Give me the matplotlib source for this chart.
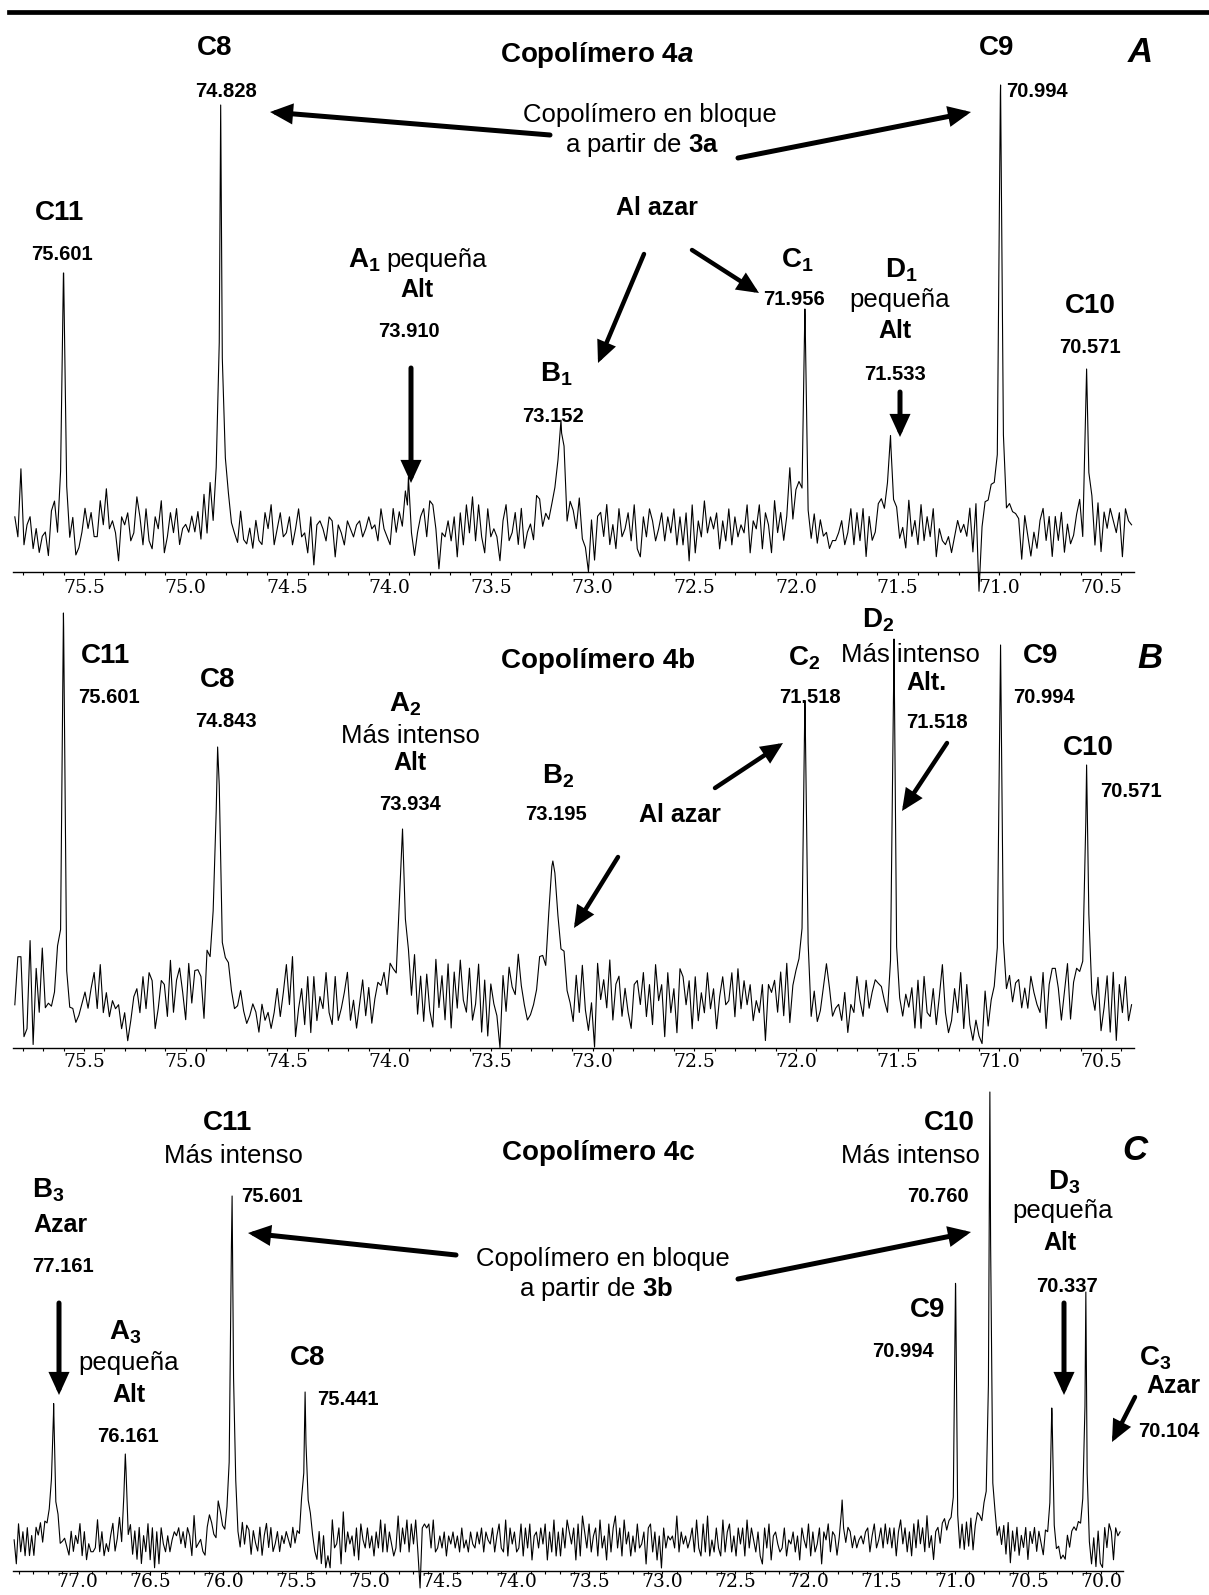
import numpy as np
import matplotlib
matplotlib.use("Agg")
import matplotlib.pyplot as plt
from matplotlib.patches import FancyArrowPatch
from matplotlib.lines import Line2D

plt.rcParams["font.family"] = ["Liberation Sans", "DejaVu Sans"]
plt.rcParams["mathtext.fontset"] = "custom"
plt.rcParams["mathtext.rm"] = "Liberation Sans:bold"
plt.rcParams["mathtext.bf"] = "Liberation Sans:bold"
plt.rcParams["mathtext.it"] = "Liberation Sans:bold:italic"

# ------------------------------------------------------------------
# Spectral data (13C NMR, ppm).  Intensities in arbitrary units.
# ------------------------------------------------------------------
STEP = 0.015            # ppm between recorded points
start_4a = 75.84
start_4b = 75.84
start_4c = 77.43

# baseline noise of each recorded trace (one value per point)
noise_4a = [
    2, -3, 14, -5, 0, 2, -6, -1, -7, -3, -2, -8, 3, 5, -4, 5, 2, 3, -5, 1,
    -8, -6, -2, 4, -1, 3, -3, -3, 6, 0, 9, -1, 1, -2, -9, 2, 0, 3, -4, -2,
    7, 2, -5, 4, -4, -6, 2, -1, 6, -7, -3, 3, -2, 4, -5, -1, 0, -2, 2, -2,
    3, -4, 7, -3, 9, -2, 6, -3, 0, 9, 5, -1, -3, -5, 3, -4, -5, -1, -6, 1,
    -4, -5, 3, -1, 5, -5, -1, 3, -3, -2, 2, -5, -1, 4, -3, -2, -7, 2, -10, 0,
    1, -1, -4, 2, 1, -8, 0, -2, -5, 1, -1, -3, 0, 1, -3, -1, 2, -1, 0, -4,
    4, -1, -3, -5, 4, -2, 3, -1, 6, 8, -3, -8, -2, 2, 4, -3, 6, 5, -1, -11,
    -2, -3, 1, -4, 2, -8, 3, -5, 5, -2, 7, -4, 5, -3, -7, 4, -3, -1, -3, -9,
    1, 5, -4, -2, 3, -5, 4, -6, -2, 0, -4, 7, 6, -1, 2, 0, 3, 5, 6, 4,
    5, -5, 3, 2, -2, 6, -4, -6, -12, 1, -9, 2, 3, -3, 5, -5, 0, -6, 4, -3,
    -1, 3, -4, 5, -6, -8, 2, -3, 4, 1, -4, -1, 3, -4, 2, -2, 4, -5, 2, -5,
    3, -9, 5, -7, 1, -3, 6, -2, 2, -1, 3, -6, 1, -4, 4, -5, 2, -3, 0, -2,
    5, -7, 1, -1, 5, -6, 3, 0, -7, 6, -2, 3, -4, 2, 14, 1, 8, 9, 2, 0,
    -2, -5, 2, -5, 1, -3, -2, -6, -4, -4, -2, 1, -5, -2, 4, -5, 3, -4, 4, -8,
    2, -4, -2, 5, 6, 3, 7, 4, 1, 3, -4, -1, -6, 6, -3, 1, -5, 5, -4, 2,
    -3, 4, -8, -1, -4, -5, -3, -7, -3, 1, -2, 0, -3, 4, -7, 5, -17, -1, 5, 5,
    8, 6, 2, 0, 3, -1, 3, 2, 2, 1, -9, 2, -3, -8, -2, -6, 1, 4, -4, 2,
    -8, 2, -4, 3, -7, 0, -5, -3, 2, 5, -7, 2, 3, 5, -6, 5, -7, 3, -1, 4,
    1, -2, 3, -8, 4, 1, 0,
]
noise_4b = [
    -2, 10, 10, -10, -8, 14, -12, 7, -4, 12, -3, -2, -3, 0, 10, 6, 0, -2, -5, -4,
    -7, -5, -2, 1, -3, 2, 6, -3, 8, -4, 1, -5, -1, -3, -2, -8, -4, -11, -6, 0,
    2, -4, 5, -3, 6, 4, -8, -3, 4, 3, -5, 9, -4, 4, 7, 1, -6, 8, -2, 6,
    6, 4, -7, 9, 5, 9, 2, 12, 2, 5, 6, 0, -4, -3, 1, -4, -7, -5, -2, -4,
    -9, -2, -6, -4, -8, -4, 2, -5, 1, 8, -2, 10, -10, -3, 2, -7, 5, -9, 5, -6,
    0, -3, 6, -4, -7, 5, -6, -3, 1, 6, -6, -1, -8, -2, 4, -5, 2, -7, -1, 3,
    2, 5, -1, 6, 3, -2, 4, 0, -3, 3, -4, 8, -6, 4, -7, 5, -4, -8, 9, -3,
    5, -6, 8, -8, 6, -3, 9, -1, -4, 7, -6, -2, 8, -9, 4, -10, 3, -2, -5, -13,
    5, -4, 7, 2, 0, 10, 2, -3, -7, -6, -4, -1, 6, 4, -3, 1, 0, 2, 4, 3,
    6, -2, -4, -8, 4, -5, 7, -4, -9, -2, -13, 8, -1, 4, -3, 9, -6, 3, 5, -5,
    2, -4, -8, 3, 4, -2, 6, -5, 3, -7, 8, -1, 3, -10, 6, -4, 2, -9, 7, 5,
    -2, 4, -8, 5, -6, 1, -4, 6, -3, 2, -8, 0, 5, -2, -1, 6, -5, 7, -3, 4,
    -2, 3, -6, -1, -4, 3, -11, 3, 1, 4, -4, 6, -5, 8, -7, 2, 5, 6, 4, 0,
    3, -8, 0, -7, -4, 2, 8, 2, -5, -3, -2, -6, 1, -9, -2, -4, 5, -1, -5, 4,
    -3, 1, 4, 3, 2, -2, -6, 2, 0, 1, -3, -6, 0, -3, 2, -8, 4, -8, 5, -4,
    -5, 2, -7, 0, 8, -4, -9, -6, 2, -4, 6, -8, 3, -7, -11, -6, -10, -12, 1, -8,
    -2, 0, 3, 0, 2, -1, 4, -2, 3, 4, -3, 2, -3, 5, 1, -2, -4, 6, -8, 3,
    7, 7, 2, -6, 1, 8, -6, 3, 6, 4, 2, 0, 4, -3, -5, 4, -9, -3, 5, -9,
    6, -11, 3, -4, 5, -6, -2,
]
noise_4c = [
    0, -6, 4, -3, 2, -4, 3, -4, 1, -4, 3, 1, 4, -1, 4, 3, 5, 6, 3, 2,
    4, -2, -1, 0, -2, -4, 2, -3, 1, -1, 4, -4, 2, -5, -1, -3, -3, -2, 5, -3,
    2, -4, -1, -3, 1, 4, -3, 0, 5, -2, 4, 3, -1, 3, -4, 2, -5, 3, -6, 1,
    -3, 4, -5, 3, -7, 2, -6, 3, -1, -3, 1, -3, 0, 2, 1, 3, -1, 2, -2, 3,
    1, -4, 6, -2, -1, 0, -3, -4, 3, 6, 4, 1, 0, 9, 6, 2, 0, 3, 5, 7,
    2, 5, -2, -4, 3, -2, 3, 2, -4, 2, -1, -3, 3, -4, 1, 4, -2, 3, -3, -1,
    2, -3, 1, -1, 2, 0, -2, 3, -1, 2, 1, 9, 8, 9, 8, 6, 1, -3, -5, 2,
    -6, 1, -7, -4, -7, 5, -2, -1, 3, -6, 7, -3, 2, -1, 1, -4, 3, -5, 4, 0,
    -2, 3, -2, 1, -4, 2, -2, 5, -3, 4, -3, 2, -1, -4, -2, 6, -3, 3, -1, 5,
    -3, 4, -1, 5, -3, -12, 3, 4, 3, 4, -2, 5, -3, -2, 1, -2, 2, -4, 1, -1,
    2, -2, 1, -3, 3, -2, 0, -3, 2, -1, -2, 2, -1, 3, -3, 2, 0, -1, 3, -3,
    1, 4, -2, -3, 5, -4, 3, -1, 2, -3, -2, 4, -4, 3, -2, 4, -5, 1, 2, -2,
    3, -1, 4, -5, 2, -3, 5, -4, 2, -4, 3, -2, 5, 2, -1, 3, -5, 4, -4, 6,
    2, -2, 4, -3, 1, 3, -4, 5, -2, 1, -5, 4, -3, 3, 6, -2, 3, -4, 5, -1,
    2, -4, 1, -3, 4, -2, -1, 2, -6, 3, 4, -3, 2, -5, 1, -7, 3, -2, 1, 0,
    1, -2, 6, -3, 2, -1, 1, -2, 0, 3, -3, 5, -2, -4, 4, -3, 6, -4, 0, -3,
    3, -2, -4, 5, -3, 2, 4, -3, 1, -4, 3, -1, 3, -4, 5, -2, 3, 0, -3, 2,
    -4, -6, 3, -2, 4, -5, 1, 2, -1, -3, -2, 3, -4, 0, -1, 2, -3, 1, -5, 3,
    0, -2, 4, -4, 2, -3, -1, 3, -6, 2, 0, 4, -3, 2, 1, -4, 0, 2, 1, -1,
    3, 2, -2, 1, -2, 0, 1, -1, 2, 3, -3, 1, 4, -2, 0, 3, -2, 4, -1, 3,
    -2, 3, -4, 2, 5, -1, 3, -3, 2, -4, 4, -2, 5, -1, 3, -3, 6, -2, 1, -5,
    2, 3, -1, 4, 5, 2, 4, 4, 5, 3, -1, -4, 3, -3, 4, -2, 5, -3, 3, 6,
    5, 3, 6, 4, 2, 0, 2, 3, -1, 2, -2, 3, -4, 4, -6, 2, -3, 3, -4, 1,
    -2, 3, -5, 2, -1, 3, -3, 2, -1, -4, 2, 1, 5, 3, 1, -3, -2, -5, -4, -5,
    1, -2, 2, 3, 2, 4, 3, 7, 8, 2, -3, -7, 0, -7, 2, -6, -7, 3, -2, 4,
    2, -5, 3, 1, 2,
]

# resolved signals: position (ppm), height, half-width (ppm)
peaks_4a_ppm = [75.601, 74.828, 73.910, 73.152, 71.956, 71.533, 70.994, 70.571]
peaks_4a_int = [63, 105, 5, 23, 54, 19.5, 110, 39]
peaks_4a_hw = [0.0055, 0.0065, 0.010, 0.016, 0.0055, 0.008, 0.0065, 0.0065]

peaks_4b_ppm = [75.601, 74.843, 73.934, 73.195, 71.956, 71.518, 70.994, 70.571]
peaks_4b_int = [96, 62.5, 42, 34, 74, 89.5, 88, 58]
peaks_4b_hw = [0.005, 0.011, 0.015, 0.024, 0.0065, 0.005, 0.0055, 0.007]

peaks_4c_ppm = [77.161, 76.67, 75.94, 75.441, 71.77, 70.994, 70.760, 70.337, 70.104]
peaks_4c_int = [31.5, 21.5, 86, 37, 10, 63.5, 112, 33, 62]
peaks_4c_hw = [0.009, 0.007, 0.009, 0.005, 0.005, 0.005, 0.007, 0.005, 0.005]

# axis limits (ppm) and tick spacing
xlim_4a = (75.847, 70.338)
xlim_4b = (75.847, 70.338)
xlim_4c = (77.435, 69.85)
major_step = 0.5
minor_step = 0.1

# ------------------------------------------------------------------
W, H, DPI = 1209, 1595, 100
PX_PER_UNIT = 4.0
fig = plt.figure(figsize=(W / DPI, H / DPI), dpi=DPI)
fig.patch.set_facecolor("white")


def spectrum(start, noise, ppm, inten, hw):
    x = start - STEP * np.arange(len(noise))
    y = np.asarray(noise, dtype=float).copy()
    for p, h, w in zip(ppm, inten, hw):
        y += h / (1.0 + ((x - p) / w) ** 2)
    xs = np.concatenate([x, np.asarray(ppm, float)])
    ys = np.concatenate([y, np.asarray(inten, float)])
    order = np.argsort(-xs)
    return xs[order], ys[order]


def make_panel(left, right, top, bottom, base, xlim, pad):
    ax = fig.add_axes([left / W, 1 - bottom / H, (right - left) / W, (bottom - top) / H])
    ax.set_xlim(*xlim)
    ax.set_ylim(-(bottom - base) / PX_PER_UNIT, (base - top) / PX_PER_UNIT)
    for s in ("left", "right", "top"):
        ax.spines[s].set_visible(False)
    ax.spines["bottom"].set_linewidth(1.0)
    ax.set_yticks([])
    hi, lo = xlim
    major = np.arange(np.ceil(lo / major_step) * major_step, hi, major_step)
    minor = np.arange(np.ceil(lo / minor_step) * minor_step, hi, minor_step)
    ax.set_xticks(major, [f"{v:.1f}" for v in major],
                  fontfamily="DejaVu Serif", fontsize=13.5)
    ax.set_xticks(minor, minor=True)
    ax.tick_params(axis="x", which="both", direction="out", length=2.2, width=0.8,
                   pad=pad)
    ax.patch.set_visible(False)
    return ax


ax_a = make_panel(13.4, 1134, 52, 572, 525, xlim_4a, 2.6)
ax_b = make_panel(13.4, 1134, 560, 1048, 997, xlim_4b, 1.2)
ax_c = make_panel(13.4, 1123, 1060, 1571, 1540, xlim_4c, -1.0)

for ax, st, nz, pp, ii, hh in [
    (ax_a, start_4a, noise_4a, peaks_4a_ppm, peaks_4a_int, peaks_4a_hw),
    (ax_b, start_4b, noise_4b, peaks_4b_ppm, peaks_4b_int, peaks_4b_hw),
    (ax_c, start_4c, noise_4c, peaks_4c_ppm, peaks_4c_int, peaks_4c_hw),
]:
    xs, ys = spectrum(st, nz, pp, ii, hh)
    ax.plot(xs, ys, color="black", lw=0.8, clip_on=False)

# ------------------------------------------------------------------
# annotation layer (pixel coordinates)
ov = fig.add_axes([0, 0, 1, 1])
ov.set_xlim(0, W)
ov.set_ylim(H, 0)
ov.axis("off")
ov.patch.set_visible(False)

fig.add_artist(Line2D([9 / W, 1.0], [1 - 11.7 / H] * 2, lw=3.4, color="black"))

STY = {
    "name": dict(fontsize=20, fontweight="bold"),
    "shift": dict(fontsize=14.5, fontweight="bold"),
    "desc": dict(fontsize=18.5),
    "tag": dict(fontsize=18, fontweight="bold"),
    "title": dict(fontsize=20, fontweight="bold"),
    "panel": dict(fontsize=25, fontweight="bold", fontstyle="italic"),
}

labels = [
    # Copolímero 4a
    (215, 55, "C8", "name", "center"),
    (226, 97, "74.828", "shift", "center"),
    (59, 220, "C11", "name", "center"),
    (62, 260, "75.601", "shift", "center"),
    (597, 62, "Copolímero 4$a$", "title", "center"),
    (1140, 62, "A", "panel", "center"),
    (997, 55, "C9", "name", "center"),
    (1037, 97, "70.994", "shift", "center"),
    (650, 122, "Copolímero en bloque", "desc", "center"),
    (642, 152, "a partir de $\\mathrm{3a}$", "desc", "center"),
    (657, 215, "Al azar", "tag", "center"),
    (364, 267, "A$_1$", "name", "center"),
    (386, 267, "pequeña", "desc", "left"),
    (417, 297, "Alt", "tag", "center"),
    (409, 337, "73.910", "shift", "center"),
    (556, 382, "B$_1$", "name", "center"),
    (553, 422, "73.152", "shift", "center"),
    (797, 267, "C$_1$", "name", "center"),
    (794, 305, "71.956", "shift", "center"),
    (901, 277, "D$_1$", "name", "center"),
    (900, 307, "pequeña", "desc", "center"),
    (895, 338, "Alt", "tag", "center"),
    (895, 380, "71.533", "shift", "center"),
    (1090, 313, "C10", "name", "center"),
    (1090, 353, "70.571", "shift", "center"),
    # Copolímero 4b
    (105, 663, "C11", "name", "center"),
    (109, 703, "75.601", "shift", "center"),
    (218, 687, "C8", "name", "center"),
    (226, 727, "74.843", "shift", "center"),
    (405, 712, "A$_2$", "name", "center"),
    (410, 743, "Más intenso", "desc", "center"),
    (410, 770, "Alt", "tag", "center"),
    (410, 810, "73.934", "shift", "center"),
    (558, 783, "B$_2$", "name", "center"),
    (556, 820, "73.195", "shift", "center"),
    (598, 668, "Copolímero 4b", "title", "center"),
    (680, 822, "Al azar", "tag", "center"),
    (804, 665, "C$_2$", "name", "center"),
    (810, 703, "71.518", "shift", "center"),
    (878, 628, "D$_2$", "name", "center"),
    (910, 662, "Más intenso", "desc", "center"),
    (926, 690, "Alt.", "tag", "center"),
    (937, 728, "71.518", "shift", "center"),
    (1041, 663, "C9", "name", "center"),
    (1044, 703, "70.994", "shift", "center"),
    (1150, 668, "B", "panel", "center"),
    (1088, 755, "C10", "name", "center"),
    (1131, 797, "70.571", "shift", "center"),
    # Copolímero 4c
    (228, 1130, "C11", "name", "center"),
    (233, 1163, "Más intenso", "desc", "center"),
    (272, 1202, "75.601", "shift", "center"),
    (48, 1198, "B$_3$", "name", "center"),
    (60, 1232, "Azar", "tag", "center"),
    (63, 1272, "77.161", "shift", "center"),
    (125, 1340, "A$_3$", "name", "center"),
    (129, 1370, "pequeña", "desc", "center"),
    (129, 1402, "Alt", "tag", "center"),
    (128, 1442, "76.161", "shift", "center"),
    (308, 1365, "C8", "name", "center"),
    (348, 1405, "75.441", "shift", "center"),
    (598, 1160, "Copolímero 4c", "title", "center"),
    (603, 1266, "Copolímero en bloque", "desc", "center"),
    (596, 1296, "a partir de $\\mathrm{3b}$", "desc", "center"),
    (949, 1130, "C10", "name", "center"),
    (910, 1163, "Más intenso", "desc", "center"),
    (938, 1202, "70.760", "shift", "center"),
    (1135, 1160, "C", "panel", "center"),
    (1064, 1190, "D$_3$", "name", "center"),
    (1063, 1218, "pequeña", "desc", "center"),
    (1060, 1250, "Alt", "tag", "center"),
    (1067, 1292, "70.337", "shift", "center"),
    (928, 1317, "C9", "name", "center"),
    (903, 1357, "70.994", "shift", "center"),
    (1155, 1365, "C$_3$", "name", "center"),
    (1173, 1393, "Azar", "tag", "center"),
    (1169, 1437, "70.104", "shift", "center"),
]
for x, y, s, kind, ha in labels:
    ov.text(x, y, s, ha=ha, va="baseline", **STY[kind])

# arrows: tail -> head, line width (pt)
arrows = [
    ((550, 135), (270, 112), 3.6),
    ((738, 158), (971, 112), 3.6),
    ((644, 254), (598, 363), 3.2),
    ((692, 250), (759, 293), 3.2),
    ((411, 368), (411, 483), 3.6),
    ((900, 392), (900, 437), 3.6),
    ((715, 788), (783, 743), 3.2),
    ((618, 857), (574, 928), 3.2),
    ((947, 743), (902, 811), 3.2),
    ((456, 1255), (248, 1233), 3.6),
    ((738, 1279), (971, 1232), 3.6),
    ((59, 1303), (59, 1395), 3.6),
    ((1064, 1303), (1064, 1395), 3.6),
    ((1135, 1397), (1112, 1442), 3.2),
]
for a, b, lw in arrows:
    ov.add_patch(FancyArrowPatch(a, b, arrowstyle="-|>,head_length=1.05,head_width=0.48",
                                 mutation_scale=10, lw=lw, color="black",
                                 shrinkA=0, shrinkB=0, joinstyle="miter"))

fig.savefig("out.png", dpi=DPI, facecolor="white")
